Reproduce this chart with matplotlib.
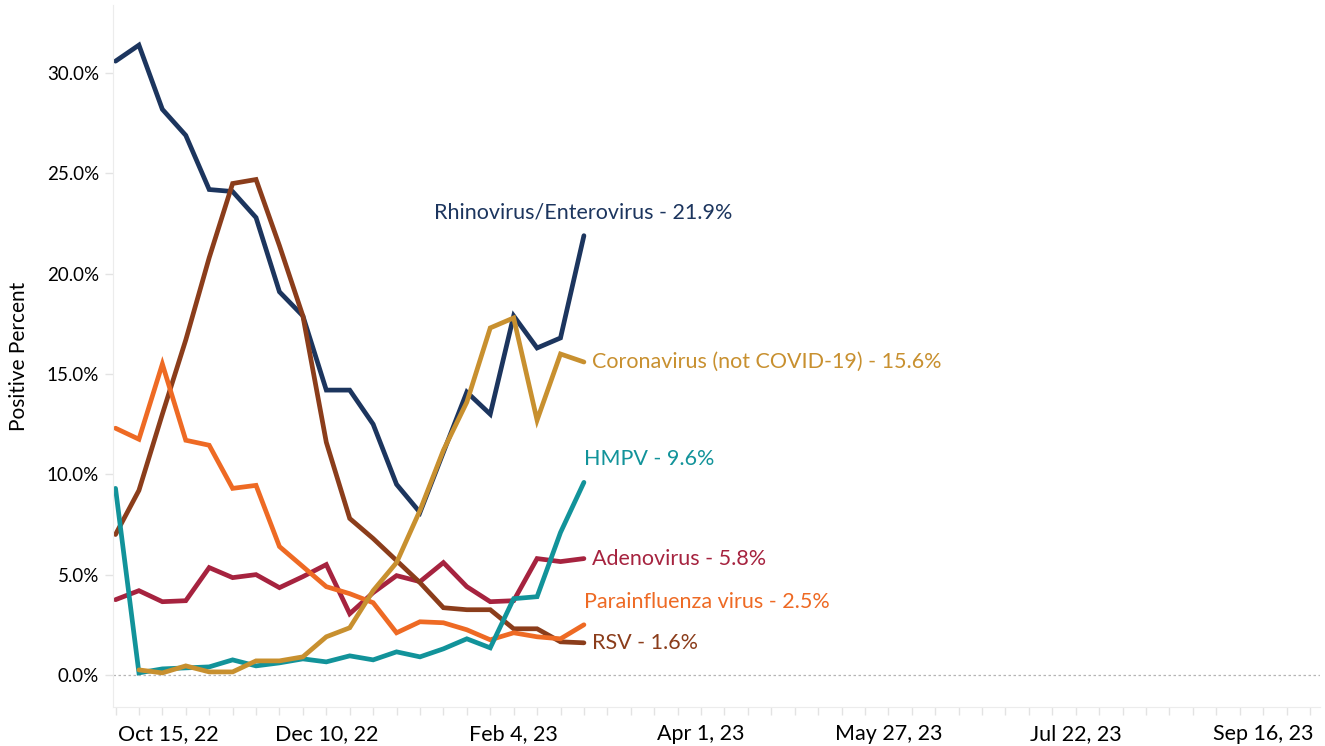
import datetime as dt
import matplotlib
matplotlib.use('Agg')
import matplotlib.pyplot as plt
import matplotlib.dates as mdates
from matplotlib.transforms import ScaledTranslation

plt.rcParams['font.family'] = ['Lato', 'DejaVu Sans']

# semanas (sabados) de 8 out 2022 a 25 fev 2023
semanas = [dt.date(2022, 10, 8) + dt.timedelta(weeks=i) for i in range(21)]

rhino = [30.6, 31.4, 28.2, 26.9, 24.2, 24.1, 22.8, 19.1, 17.9, 14.2, 14.2,
         12.5, 9.5, 8.1, 11.1, 14.1, 13.0, 17.9, 16.3, 16.8, 21.9]
rsv = [7.0, 9.2, 13.0, 16.7, 20.8, 24.5, 24.7, 21.4, 17.9, 11.6, 7.8,
       6.8, 5.7, 4.6, 3.35, 3.25, 3.25, 2.3, 2.3, 1.65, 1.6]
parainf = [12.3, 11.75, 15.5, 11.7, 11.45, 9.3, 9.45, 6.4, 5.4, 4.4, 4.05,
           3.6, 2.1, 2.65, 2.6, 2.25, 1.75, 2.1, 1.9, 1.8, 2.5]
adeno = [3.75, 4.2, 3.65, 3.7, 5.35, 4.85, 5.0, 4.35, 4.9, 5.5, 3.05,
         4.1, 4.95, 4.65, 5.6, 4.4, 3.65, 3.7, 5.8, 5.65, 5.8]
hmpv = [9.3, 0.1, 0.3, 0.35, 0.4, 0.75, 0.45, 0.6, 0.8, 0.65, 0.95,
        0.75, 1.15, 0.9, 1.3, 1.8, 1.35, 3.8, 3.9, 7.1, 9.6]
corona = [None, 0.25, 0.1, 0.45, 0.15, 0.15, 0.7, 0.7, 0.9, 1.9, 2.35,
          4.2, 5.6, 8.2, 11.2, 13.6, 17.3, 17.8, 12.7, 16.0, 15.6]

series = [
    ('Rhinovirus/Enterovirus', rhino, '#1c355e', (-108, 16.6)),
    ('Adenovirus', adeno, '#a6233f', (5.8, 0)),
    ('RSV', rsv, '#8b3d1b', (5.8, 0)),
    ('Parainfluenza virus', parainf, '#ee6a24', (0, 16.6)),
    ('HMPV', hmpv, '#12939a', (0, 16.6)),
    ('Coronavirus (not COVID-19)', corona, '#c8902f', (5.8, 0)),
]

fig = plt.figure(figsize=(13.25, 7.46), dpi=100)
ax = fig.add_axes([113 / 1325, 1 - 707 / 746, (1320 - 113) / 1325, 702 / 746])

for nome, vals, cor, off in series:
    xs = [d for d, v in zip(semanas, vals) if v is not None]
    ys = [v for v in vals if v is not None]
    ax.plot(xs, ys, color=cor, lw=3.4, solid_capstyle='round',
            solid_joinstyle='miter')
    ax.annotate(f'{nome} - {ys[-1]:.1f}%', xy=(xs[-1], ys[-1]), xytext=off,
                textcoords='offset points', ha='left', va='center',
                color=cor, fontsize=15.5)

ax.axhline(0, color='#b5b5b5', lw=0.9, ls=(0, (2, 2)), zorder=0)

ax.set_xlim(dt.datetime(2022, 10, 7, 6), dt.datetime(2023, 10, 3))
ax.set_ylim(-1.6, 33.4)

ax.xaxis.set_minor_locator(mdates.WeekdayLocator(byweekday=mdates.SA))
ax.xaxis.set_major_formatter(plt.FuncFormatter(
    lambda x, pos: (lambda d: f'{d:%b} {d.day}, {d:%y}')(mdates.num2date(x))))
ax.set_xticks([mdates.date2num(dt.date(2022, 10, 15)) + 56 * i for i in range(7)])

ax.set_yticks(range(0, 31, 5))
ax.set_yticklabels([f'{v:.1f}%' for v in range(0, 31, 5)])

ax.tick_params(axis='both', which='both', color='#e3e3e3', length=6, width=1)
ax.tick_params(axis='x', labelsize=15.5, pad=6, colors='#e3e3e3', labelcolor='black')
ax.tick_params(axis='y', labelsize=13.5, pad=4, colors='#e3e3e3', labelcolor='black')

for lado in ['top', 'right']:
    ax.spines[lado].set_visible(False)
for lado in ['left', 'bottom']:
    ax.spines[lado].set_color('#ececec')

# primeira data fica deslocada para dentro, como no original
rotulo = ax.get_xticklabels()[0]
rotulo.set_transform(rotulo.get_transform() + ScaledTranslation(0.29, 0, fig.dpi_scale_trans))

ax.set_ylabel('Positive Percent', fontsize=15)
ax.yaxis.set_label_coords(-0.0696, 0.5)

fig.savefig('out.png', dpi=100)
